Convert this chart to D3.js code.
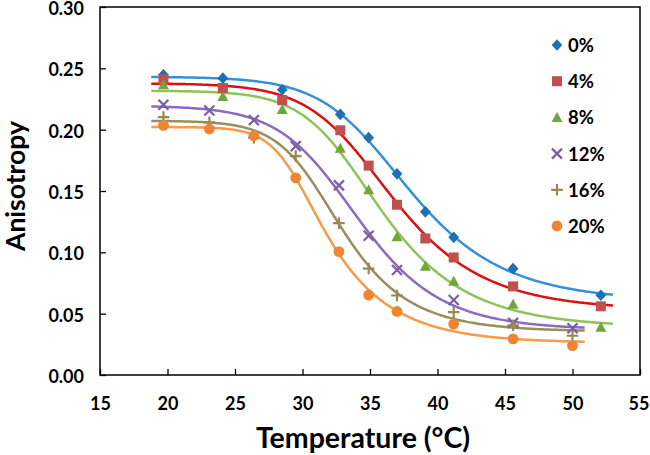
<!DOCTYPE html>
<html>
<head>
<meta charset="utf-8">
<script src="https://cdn.jsdelivr.net/npm/d3@7"></script>
<style>
  html, body { margin: 0; padding: 0; background: #fff; }
  svg { display: block; }
</style>
</head>
<body>
<svg id="chart" width="650" height="455"></svg>
<script>
// ---------------- data ----------------
const seriesNames = ["0%", "4%", "8%", "12%", "16%", "20%"];
const tempsA = [19.7, 24.1, 28.5, 32.8, 34.9, 37.0, 39.1, 41.2, 45.6, 52.1];   // 0%, 4%, 8%
const tempsB = [19.7, 23.1, 26.4, 29.5, 32.7, 34.9, 37.0, 41.2, 45.6, 50.0];   // 12%, 16%, 20%
const values0  = [0.2447, 0.2420, 0.2325, 0.2125, 0.1935, 0.1640, 0.1330, 0.1122, 0.0867, 0.0650];
const values4  = [0.2410, 0.2340, 0.2240, 0.1995, 0.1707, 0.1388, 0.1113, 0.0958, 0.0722, 0.0560];
const values8  = [0.2366, 0.2272, 0.2165, 0.1850, 0.1512, 0.1128, 0.0888, 0.0765, 0.0578, 0.0390];
const values12 = [0.2203, 0.2157, 0.2078, 0.1866, 0.1546, 0.1135, 0.0856, 0.0612, 0.0425, 0.0381];
const values16 = [0.2103, 0.2060, 0.1935, 0.1785, 0.1238, 0.0868, 0.0648, 0.0512, 0.0405, 0.0320];
const values20 = [0.2035, 0.2005, 0.1950, 0.1607, 0.1006, 0.0652, 0.0518, 0.0415, 0.0295, 0.0240];
const fitRangeStart = [18.8, 18.8, 18.8, 18.8, 18.8, 18.8];
const fitRangeEnd   = [53.0, 53.0, 53.0, 50.9, 50.9, 50.9];
const xTickValues = [15, 20, 25, 30, 35, 40, 45, 50, 55];
const yTickValues = [0, 0.05, 0.10, 0.15, 0.20, 0.25, 0.30];
const xTitle = "Temperature (°C)";
const yTitle = "Anisotropy";

// ---------------- styles ----------------
const markerColors = ["#1f6fb4", "#c0504d", "#72a53a", "#7b5ea7", "#948a54", "#ef8532"];
const lineColors   = ["#3591d6", "#dd1010", "#8cc45a", "#8a6bbf", "#9a8e5c", "#f79a4a"];
const markerTypes  = ["diamond", "square", "triangle", "cross", "plus", "circle"];
const FONT = "Lato, 'Open Sans', sans-serif";

const seriesTemps  = [tempsA, tempsA, tempsA, tempsB, tempsB, tempsB];
const seriesValues = [values0, values4, values8, values12, values16, values20];
const series = seriesNames.map((name, i) => ({
  name, i,
  points: seriesTemps[i].map((t, k) => ({ t, v: seriesValues[i][k] }))
}));

// ---------------- layout ----------------
const svg = d3.select("#chart");
const plotL = 100, plotR = 640, plotT = 7, plotB = 375;
const x = d3.scaleLinear().domain([15, 55]).range([plotL, plotR]);
const y = d3.scaleLinear().domain([0, 0.30]).range([plotB, plotT]);

// ---------------- sigmoidal trend-line fit (Richards curve, least squares, Nelder-Mead) ----------------
function model(p, t) {
  const w = Math.abs(p[3]) + 1e-6;
  const s = Math.abs(p[4]) + 1e-3;
  return p[1] + (p[0] - p[1]) / Math.pow(1 + Math.exp((t - p[2]) / w), s);
}
function nelderMead(f, p0, steps, iters) {
  const n = p0.length;
  let simplex = [p0.slice()];
  for (let j = 0; j < n; j++) { const p = p0.slice(); p[j] += steps[j]; simplex.push(p); }
  let vals = simplex.map(f);
  for (let it = 0; it < iters; it++) {
    const order = d3.range(n + 1).sort((a, b) => vals[a] - vals[b]);
    simplex = order.map(k => simplex[k]); vals = order.map(k => vals[k]);
    const c = d3.range(n).map(j => d3.mean(simplex.slice(0, n), p => p[j]));
    const worst = simplex[n];
    const xr = c.map((cj, j) => cj + (cj - worst[j]));
    const fr = f(xr);
    if (fr < vals[0]) {
      const xe = c.map((cj, j) => cj + 2 * (cj - worst[j]));
      const fe = f(xe);
      if (fe < fr) { simplex[n] = xe; vals[n] = fe; } else { simplex[n] = xr; vals[n] = fr; }
    } else if (fr < vals[n - 1]) {
      simplex[n] = xr; vals[n] = fr;
    } else {
      const xc = c.map((cj, j) => cj + 0.5 * (worst[j] - cj));
      const fc = f(xc);
      if (fc < vals[n]) { simplex[n] = xc; vals[n] = fc; }
      else {
        for (let k = 1; k <= n; k++) {
          simplex[k] = simplex[k].map((v, j) => simplex[0][j] + 0.5 * (v - simplex[0][j]));
          vals[k] = f(simplex[k]);
        }
      }
    }
  }
  return simplex[d3.minIndex(vals)];
}
function fitCurve(pts) {
  const f = p => d3.sum(pts, d => (model(p, d.t) - d.v) ** 2);
  let p = [pts[0].v, pts[pts.length - 1].v - 0.01, 33, 3, 1];
  for (let r = 0; r < 4; r++) p = nelderMead(f, p, [0.01, 0.01, 1.5, 1, 0.3], 3000);
  return p;
}

// ---------------- trend lines ----------------
const line = d3.line().x(d => x(d[0])).y(d => y(d[1])).curve(d3.curveLinear);
const lineG = svg.append("g");
series.forEach(s => {
  const p = fitCurve(s.points);
  const t0 = fitRangeStart[s.i], t1 = fitRangeEnd[s.i];
  const ts = d3.range(t0, t1, 0.1).concat([t1]);
  lineG.append("path")
    .attr("d", line(ts.map(t => [t, model(p, t)])))
    .attr("fill", "none")
    .attr("stroke", lineColors[s.i])
    .attr("stroke-width", 2.5)
    .attr("stroke-linejoin", "round");
});

// ---------------- markers ----------------
function drawMarker(g, type, color) {
  if (type === "diamond") {
    g.append("path").attr("d", "M0,-5.8L5.4,0L0,5.8L-5.4,0Z").attr("fill", color);
  } else if (type === "square") {
    g.append("rect").attr("x", -5).attr("y", -5).attr("width", 10).attr("height", 10).attr("fill", color);
  } else if (type === "triangle") {
    g.append("path").attr("d", "M0,-5.4L5.5,4.6L-5.5,4.6Z").attr("fill", color);
  } else if (type === "cross") {
    g.append("path").attr("d", "M-5,-5L5,5M-5,5L5,-5")
      .attr("stroke", color).attr("stroke-width", 2.2).attr("fill", "none");
  } else if (type === "plus") {
    g.append("path").attr("d", "M-5.8,0L5.8,0M0,-5.8L0,5.8")
      .attr("stroke", color).attr("stroke-width", 2.2).attr("fill", "none");
  } else {
    g.append("circle").attr("r", 5.4).attr("fill", color);
  }
}
const markG = svg.append("g");
series.forEach(s => {
  s.points.forEach(d => {
    const g = markG.append("g").attr("transform", `translate(${x(d.t)},${y(d.v)})`);
    drawMarker(g, markerTypes[s.i], markerColors[s.i]);
  });
});

// ---------------- axes ----------------
const xAxis = d3.axisBottom(x).tickValues(xTickValues).tickSize(-6).tickPadding(22).tickFormat(d3.format("d"));
const yAxis = d3.axisLeft(y).tickValues(yTickValues).tickSize(-6).tickPadding(16).tickFormat(d3.format(".2f"));
const gx = svg.append("g").attr("transform", `translate(0,${plotB})`).call(xAxis);
const gy = svg.append("g").attr("transform", `translate(${plotL},0)`).call(yAxis);
[gx, gy].forEach(g => {
  g.select(".domain").remove();
  g.selectAll(".tick line").attr("stroke", "#000").attr("stroke-width", 1.3);
  g.selectAll(".tick text").attr("fill", "#000")
    .attr("font-family", FONT).attr("font-weight", "bold").attr("font-size", 18);
});
gy.selectAll(".tick text").attr("dy", "0.42em");
gx.selectAll(".tick text").filter(d => d === 55).attr("dx", -1.5);

// plot border
svg.append("rect")
  .attr("x", plotL).attr("y", plotT).attr("width", plotR - plotL).attr("height", plotB - plotT)
  .attr("fill", "none").attr("stroke", "#000").attr("stroke-width", 1.5);

// ---------------- titles ----------------
svg.append("text")
  .attr("x", 363).attr("y", 448)
  .attr("text-anchor", "middle")
  .attr("font-family", FONT).attr("font-weight", "bold").attr("font-size", 28.5)
  .text(xTitle);
svg.append("text")
  .attr("transform", `translate(25,186) rotate(-90)`)
  .attr("text-anchor", "middle")
  .attr("font-family", FONT).attr("font-weight", "bold").attr("font-size", 26.5)
  .text(yTitle);

// ---------------- legend ----------------
const legend = svg.append("g");
series.forEach(s => {
  const ly = 45 + s.i * 36.2;
  const g = legend.append("g").attr("transform", `translate(557,${ly})`);
  drawMarker(g, markerTypes[s.i], markerColors[s.i]);
  legend.append("text")
    .attr("x", 568).attr("y", ly + 7)
    .attr("font-family", FONT).attr("font-weight", "bold").attr("font-size", 18.5)
    .text(s.name);
});
</script>
</body>
</html>
